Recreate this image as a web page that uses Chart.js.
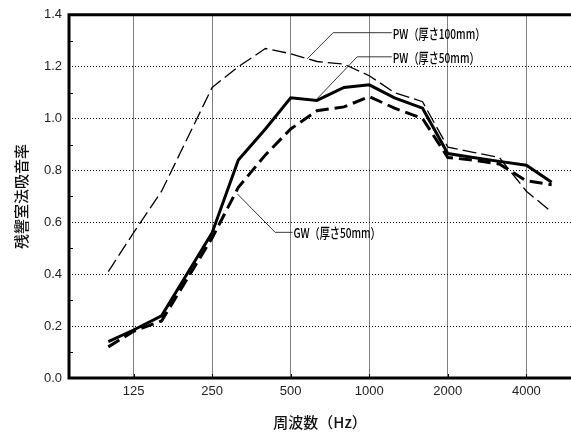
<!DOCTYPE html>
<html>
<head>
<meta charset="utf-8">
<script src="https://cdn.jsdelivr.net/npm/chart.js@4/dist/chart.umd.min.js"></script>
<style>
html,body{margin:0;padding:0;background:#fff;}
canvas{display:block;}
</style>
</head>
<body>
<canvas id="c" width="571" height="432"></canvas>
<script>
// ---- data ----
const freqs = [100,125,160,200,250,315,400,500,630,800,1000,1250,1600,2000,2500,3150,4000,5000];
const pw100 = [0.41,0.56,0.72,0.92,1.12,1.20,1.27,1.25,1.22,1.21,1.165,1.10,1.065,0.89,0.87,0.85,0.72,0.64];
const pw50  = [0.14,0.185,0.24,0.40,0.56,0.84,0.96,1.08,1.07,1.12,1.13,1.08,1.04,0.865,0.85,0.835,0.82,0.755];
const gw50  = [0.12,0.18,0.22,0.38,0.54,0.735,0.86,0.96,1.03,1.045,1.085,1.04,1.00,0.85,0.84,0.825,0.76,0.745];
const xTickLabels = [125,250,500,1000,2000,4000];
const yMinorTicks = [0.1,0.3,0.5,0.7,0.9,1.1,1.3];
const seriesNames = ['PW（厚さ100mm）','PW（厚さ50mm）','GW（厚さ50mm）'];
const xTitle = '周波数（Hz）';
const yTitle = '残響室法吸音率';

// leader-line annotations in data coordinates (freq, value)
const leaders = [
  {text: seriesNames[0], pts: [[578,1.23],[727,1.331],[1220,1.331]]},
  {text: seriesNames[1], pts: [[632,1.077],[899,1.238],[1220,1.238]]},
  {text: seriesNames[2], pts: [[312,0.71],[436,0.5615],[508,0.5615]]}
];

const toXY = arr => arr.map((v,i)=>({x:freqs[i], y:v}));

const framePlugin = {
  id: 'frame',
  afterDatasetsDraw(chart){
    const {ctx, chartArea:a, scales:{x, y}} = chart;
    ctx.save();
    ctx.strokeStyle = '#000'; ctx.lineWidth = 1;
    yMinorTicks.forEach(v=>{
      const py = Math.round(y.getPixelForValue(v)) + 0.5;
      ctx.beginPath(); ctx.moveTo(a.left, py); ctx.lineTo(a.left+4, py); ctx.stroke();
    });
    xTickLabels.forEach(v=>{
      const px = Math.round(x.getPixelForValue(v)) + 0.5;
      ctx.beginPath(); ctx.moveTo(px, a.bottom); ctx.lineTo(px, a.bottom-4); ctx.stroke();
    });
    ctx.lineWidth = 3; ctx.strokeStyle = '#000'; ctx.lineCap = 'square';
    ctx.beginPath();
    ctx.moveTo(a.right+2, a.top); ctx.lineTo(a.left, a.top); ctx.lineTo(a.left, a.bottom); ctx.lineTo(a.right+2, a.bottom);
    ctx.stroke();
    ctx.lineWidth = 0.9; ctx.strokeStyle = '#222'; ctx.lineCap = 'butt';
    leaders.forEach(L=>{
      ctx.beginPath();
      L.pts.forEach((p,i)=>{
        const px = x.getPixelForValue(p[0]), py = y.getPixelForValue(p[1]);
        if(i===0) ctx.moveTo(px,py); else ctx.lineTo(px,py);
      });
      ctx.stroke();
      const last = L.pts[L.pts.length-1];
      const tx = x.getPixelForValue(last[0]) + 1, ty = y.getPixelForValue(last[1]);
      ctx.save();
      ctx.translate(tx, ty);
      ctx.scale(0.75, 1);
      ctx.fillStyle = '#000';
      ctx.font = '500 13.5px "Noto Sans CJK JP"';
      ctx.textBaseline = 'middle';
      ctx.textAlign = 'left';
      ctx.fillText(L.text, 0, 1);
      ctx.restore();
    });
    ctx.restore();
  }
};

new Chart(document.getElementById('c'), {
  type: 'line',
  data: {
    datasets: [
      {label: seriesNames[0], data: toXY(pw100), borderColor:'#000', borderWidth:1.3, borderDash:[14,5], pointRadius:0, fill:false, tension:0},
      {label: seriesNames[2], data: toXY(gw50), borderColor:'#000', borderWidth:3, borderDash:[13,6], pointRadius:0, fill:false, tension:0},
      {label: seriesNames[1], data: toXY(pw50), borderColor:'#000', borderWidth:3, pointRadius:0, fill:false, tension:0}
    ]
  },
  options: {
    responsive: false,
    animation: false,
    devicePixelRatio: 1,
    layout: {padding: {top: 14, right: 0, left: 0, bottom: 0}},
    plugins: {legend: {display:false}, tooltip: {enabled:false}},
    scales: {
      x: {
        type: 'logarithmic',
        min: 70.7, max: 5930,
        afterBuildTicks: s => { s.ticks = xTickLabels.map(v=>({value:v})); },
        afterFit: s => { s.height = 54; },
        ticks: {
          autoSkip: false, maxRotation: 0, padding: 6,
          color: '#222', font: {family: '"Liberation Sans", Arial', size: 13},
          callback: v => String(v)
        },
        grid: {color: '#808080', lineWidth: 1, drawTicks: false},
        border: {display: false},
        title: {display: true, text: xTitle, color: '#111',
                font: {family: '"Noto Sans CJK JP"', size: 15, weight: '500'}, padding: {top: 0, bottom: 1}}
      },
      y: {
        min: 0, max: 1.4,
        afterFit: s => { s.width = 69; },
        ticks: {
          stepSize: 0.2, padding: 7,
          color: '#222', font: {family: '"Liberation Sans", Arial', size: 13},
          callback: v => Number(v).toFixed(1)
        },
        grid: {
          color: c => (c.tick && c.tick.value > 0.01 && c.tick.value < 1.39) ? '#000' : 'rgba(0,0,0,0)',
          lineWidth: 1, drawTicks: false
        },
        border: {display: false, dash: [1,2]},
        title: {display: true, text: yTitle, color: '#111',
                font: {family: '"Noto Sans CJK JP"', size: 15, weight: '500'}, padding: {top: 12, bottom: 0}}
      }
    }
  },
  plugins: [framePlugin]
});
</script>
</body>
</html>
